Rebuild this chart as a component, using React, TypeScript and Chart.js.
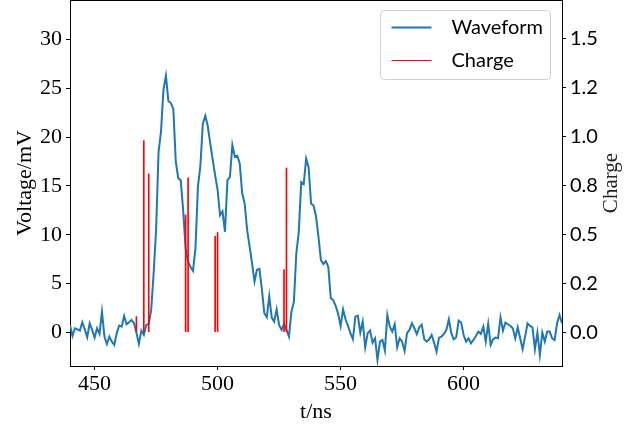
import { useEffect, useRef } from "react";
import { Chart, registerables } from "chart.js";

Chart.register(...registerables);

// Sampled waveform: one sample per ns starting at WAVE_T0
const WAVE_T0 = 440;
const WAVE_DT = 1;
const waveformMv = [
  0.75, -0.38, 0.41, 0.3, 0.17, 1.02, 0.3, -0.51, 0.92, 0.24,
  -0.55, 0.41, -0.17, 2.11, -0.44, -1.2, -0.44, -0.96, -1.3, -0.1,
  0.68, 0.58, 1.67, 0.82, 1.02, 1.26, 0.92, -0.04, -1.2, 0.17,
  -0.27, 0.75, 0.85, 2.29, 6.05, 10.5, 18.5, 20.6, 24.9, 26.3,
  23.7, 23.5, 22.9, 17.5, 15.8, 15.6, 12.5, 8.6, 7.2, 6.7,
  6.3, 8.6, 14.9, 17.05, 21.4, 22.2, 21.15, 19.4, 17.7, 16.1,
  14.6, 12.0, 12.4, 10.3, 15.6, 15.9, 19.2, 18.0, 18.1, 17.3,
  14.25, 13.2, 10.5, 8.8, 7.1, 5.2, 6.4, 6.5, 4.4, 1.95,
  1.54, 3.7, 1.5, 1.1, 2.35, 0.75, 0.24, 0.85, 0.24, -0.45,
  2.1, 3.1, 8.1, 10.3, 15.4, 15.2, 17.8, 16.9, 13.2, 13.0,
  11.9, 9.8, 7.4, 7.0, 7.3, 6.7, 3.5, 3.3, 2.7, 1.9,
  0.65, 2.35, 1.33, 0.65, -0.1, -0.72, 1.6, 1.7, -0.04, 1.1,
  -1.54, -0.1, 0.17, -1.06, -0.62, -2.84, -0.96, -0.79, -1.88, 1.77,
  0.58, 0.07, 0.82, -1.54, -0.62, -0.96, -1.92, -0.1, 0.24, 0.92,
  0.41, -0.2, 0.51, 0.78, -0.72, -0.96, -0.72, -0.28, -1.06, -1.99,
  -0.55, -0.45, -0.17, 0.24, 1.33, -0.1, -0.72, -0.51, 1.2, 1.0,
  -0.28, -0.96, -0.62, -1.13, -0.79, -0.38, 0.07, -0.17, 0.58, -0.96,
  0.85, -1.3, -0.72, -0.55, -0.62, 1.54, 0.17, 0.99, 0.82, 0.65,
  0.41, -0.62, 0.51, -0.62, -1.74, -0.45, 0.92, 0.65, 0.51, -1.74,
  -0.04, -2.33, -0.04, -0.96, 0.07, 0.07, -0.62, -0.79, 0.92, 1.77,
  0.92,
];

// Reconstructed charge pulses
const chargeTimes = [467, 470, 472, 487, 488, 499, 500, 527, 528];
const chargeValues = [0.08, 0.98, 0.81, 0.6, 0.79, 0.49, 0.51, 0.32, 0.84];

// Axis ranges and ticks
const timeRange = [440, 640];
const voltageRange = [-3.46, 34.07];
const chargeRange = [-0.1726, 1.6993];
const timeTicks = [450, 500, 550, 600];
const voltageTicks = [0, 5, 10, 15, 20, 25, 30];
const chargeTicks = [0, 0.25, 0.5, 0.75, 1.0, 1.25, 1.5];
const chargeTickLabels = ["0.0", "0.2", "0.5", "0.8", "1.0", "1.2", "1.5"];

const SERIF = "'Liberation Serif', 'DejaVu Serif', serif";
const SANS = "Lato, 'Liberation Sans', sans-serif";
const WAVE_COLOR = "#1f77b4";
const CHARGE_COLOR = "#ff0000";

// Top spine, right-hand axis title and the in-plot legend
const decorations = {
  id: "decorations",
  afterDraw(chart: any) {
    const { ctx, chartArea } = chart;
    ctx.save();

    // top spine
    ctx.strokeStyle = "#000";
    ctx.lineWidth = 1;
    ctx.beginPath();
    ctx.moveTo(chartArea.left, chartArea.top + 0.5);
    ctx.lineTo(chartArea.right, chartArea.top + 0.5);
    ctx.stroke();

    // right axis title, reading bottom-to-top
    const y1 = chart.scales.y1;
    ctx.save();
    ctx.translate(611, (chartArea.top + chartArea.bottom) / 2);
    ctx.rotate(-Math.PI / 2);
    ctx.fillStyle = "#222";
    ctx.font = `21px ${SERIF}`;
    ctx.textAlign = "center";
    ctx.textBaseline = "middle";
    ctx.fillText(y1.options.title.text, 0, 0);
    ctx.restore();

    // legend box
    const bx = chartArea.right - 181.5;
    const by = chartArea.top + 10.5;
    const bw = 170;
    const bh = 69;
    ctx.beginPath();
    ctx.roundRect(bx, by, bw, bh, 4);
    ctx.fillStyle = "rgba(255,255,255,0.8)";
    ctx.fill();
    ctx.strokeStyle = "#d0d0d0";
    ctx.lineWidth = 1;
    ctx.stroke();

    const rows = [by + 17, by + 50];
    chart.data.datasets.forEach((ds: any, i: number) => {
      const ry = rows[i];
      ctx.beginPath();
      ctx.strokeStyle = ds.borderColor;
      ctx.lineWidth = i === 0 ? 2 : 1;
      ctx.moveTo(bx + 11, ry);
      ctx.lineTo(bx + 51, ry);
      ctx.stroke();
      ctx.fillStyle = "#000";
      ctx.font = `20px ${SANS}`;
      ctx.textAlign = "left";
      ctx.textBaseline = "middle";
      ctx.fillText(ds.label, bx + 71, ry);
    });

    ctx.restore();
  },
};

export default function App() {
  const canvasRef = useRef<HTMLCanvasElement | null>(null);

  useEffect(() => {
    const canvas = canvasRef.current;
    if (!canvas) return;

    const wavePoints = waveformMv.map((v, i) => ({ x: WAVE_T0 + i * WAVE_DT, y: v }));
    const chargePoints = chargeTimes.map((t, i) => ({ x: t, y: chargeValues[i] }));

    const tickGrid = {
      drawOnChartArea: false,
      drawTicks: true,
      tickLength: 4,
      color: "#000",
      offset: false,
    };
    const border = { display: true, color: "#000", width: 1 };

    const chart = new Chart(canvas, {
      type: "line",
      data: {
        datasets: [
          {
            type: "line",
            label: "Waveform",
            data: wavePoints,
            borderColor: WAVE_COLOR,
            backgroundColor: WAVE_COLOR,
            borderWidth: 2,
            pointRadius: 0,
            tension: 0,
            yAxisID: "y",
            order: 1,
          },
          {
            type: "bar",
            label: "Charge",
            data: chargePoints,
            borderColor: CHARGE_COLOR,
            backgroundColor: CHARGE_COLOR,
            borderWidth: 0,
            barThickness: 1,
            yAxisID: "y1",
            order: 0,
          },
        ] as any,
      },
      options: {
        animation: false,
        responsive: false,
        devicePixelRatio: 1,
        layout: { padding: 0 },
        plugins: {
          legend: { display: false },
          tooltip: { enabled: false },
        },
        scales: {
          x: {
            type: "linear",
            position: "bottom",
            min: timeRange[0],
            max: timeRange[1],
            offset: false,
            afterBuildTicks: (s: any) => {
              s.ticks = timeTicks.map((v) => ({ value: v }));
            },
            afterFit: (s: any) => {
              s.height = 62;
              s.paddingLeft = 0;
              s.paddingRight = 0;
            },
            ticks: {
              autoSkip: false,
              maxRotation: 0,
              padding: 1,
              color: "#000",
              font: { family: SERIF, size: 22 },
            },
            grid: tickGrid,
            border,
            title: {
              display: true,
              text: "t/ns",
              color: "#000",
              font: { family: SERIF, size: 22 },
              padding: { top: 0, bottom: 3 },
            },
          },
          y: {
            type: "linear",
            position: "left",
            min: voltageRange[0],
            max: voltageRange[1],
            afterBuildTicks: (s: any) => {
              s.ticks = voltageTicks.map((v) => ({ value: v }));
            },
            afterFit: (s: any) => {
              s.width = 70;
              s.paddingTop = 0;
              s.paddingBottom = 0;
            },
            ticks: {
              autoSkip: false,
              padding: 4,
              color: "#000",
              font: { family: SERIF, size: 22 },
            },
            grid: tickGrid,
            border,
            title: {
              display: true,
              text: "Voltage/mV",
              color: "#000",
              font: { family: SERIF, size: 22 },
              padding: { top: 12, bottom: 0 },
            },
          },
          y1: {
            type: "linear",
            position: "right",
            min: chargeRange[0],
            max: chargeRange[1],
            afterBuildTicks: (s: any) => {
              s.ticks = chargeTicks.map((v) => ({ value: v }));
            },
            afterFit: (s: any) => {
              s.width = 81;
              s.paddingTop = 0;
              s.paddingBottom = 0;
            },
            ticks: {
              autoSkip: false,
              padding: 4,
              color: "#000",
              font: { family: SANS, size: 20 },
              callback: (_v: any, i: number) => chargeTickLabels[i],
            },
            grid: tickGrid,
            border,
            title: { display: false, text: "Charge" },
          },
        },
      } as any,
      plugins: [decorations],
    });

    return () => chart.destroy();
  }, []);

  return (
    <div style={{ position: "fixed", left: 0, top: 0, width: 643, height: 428, background: "#fff" }}>
      <canvas ref={canvasRef} width={643} height={428} style={{ display: "block" }} />
    </div>
  );
}
